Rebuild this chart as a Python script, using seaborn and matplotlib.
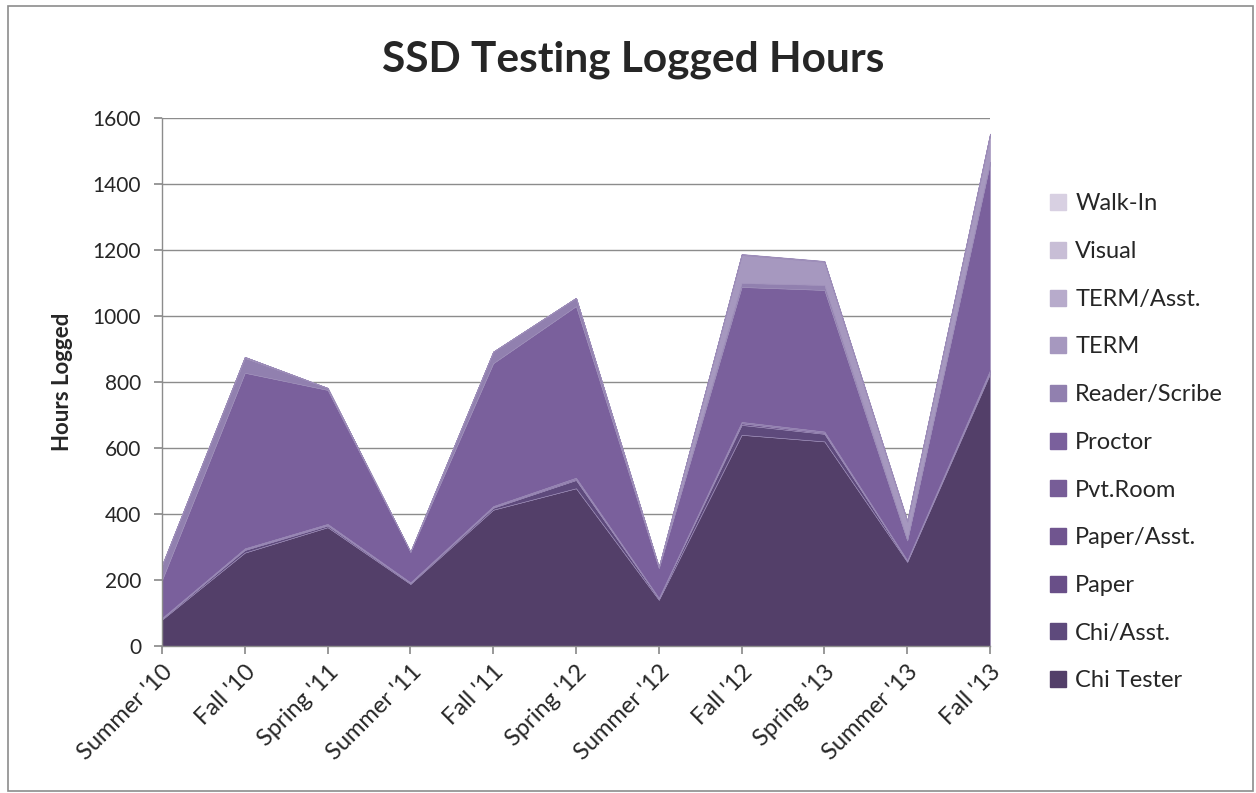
import matplotlib
matplotlib.use("Agg")
import matplotlib.pyplot as plt
import seaborn as sns
import numpy as np
from matplotlib.patches import Rectangle
from matplotlib.lines import Line2D

periods = ["Summer '10", "Fall '10", "Spring '11", "Summer '11", "Fall '11", "Spring '12",
           "Summer '12", "Fall '12", "Spring '13", "Summer '13", "Fall '13"]

series_names = ["Chi Tester", "Chi/Asst.", "Paper", "Paper/Asst.", "Pvt.Room", "Proctor",
                "Reader/Scribe", "TERM", "TERM/Asst.", "Visual", "Walk-In"]

chi_tester    = [80, 283, 360, 188, 413, 478, 140, 640, 620, 255, 825]
chi_asst      = [3, 8, 5, 3, 6, 25, 4, 30, 23, 3, 5]
paper         = [1, 2, 2, 1, 2, 3, 1, 5, 3, 1, 2]
paper_asst    = [0, 1, 1, 0, 1, 1, 0, 1, 1, 0, 1]
pvt_room      = [1, 2, 2, 1, 2, 3, 1, 3, 3, 1, 3]
proctor       = [115, 532, 406, 93, 433, 520, 90, 409, 429, 60, 627]
reader_scribe = [45, 45, 6, 0, 35, 25, 4, 12, 15, 2, 5]
term          = [0, 3, 0, 0, 0, 0, 0, 85, 70, 55, 80]
term_asst     = [0, 0, 0, 0, 0, 0, 0, 1, 1, 2, 3]
visual        = [0, 0, 0, 0, 0, 0, 0, 1, 1, 1, 1]
walk_in       = [0, 0, 0, 0, 0, 0, 0, 1, 1, 1, 1]

colors = ["#533f69", "#5e4a7c", "#694f88", "#70558f", "#775d97", "#7a609c",
          "#9180af", "#a698bf", "#b7abcb", "#c8bed6", "#d8d0e2"]

sns.set_theme(style="white")
plt.rcParams["font.family"] = ["Lato", "DejaVu Sans"]

fig = plt.figure(figsize=(12.56, 7.93), dpi=100)
ax = fig.add_axes([162/1256, 1 - 646/793, (990-162)/1256, (646-118)/793])

x = np.arange(len(periods))
data = [chi_tester, chi_asst, paper, paper_asst, pvt_room, proctor,
        reader_scribe, term, term_asst, visual, walk_in]
ax.stackplot(x, *data, colors=colors, labels=series_names, linewidth=0.4,
             edgecolor="#9c8cb8", zorder=2)

ax.set_xlim(0, len(periods) - 1)
ax.set_ylim(0, 1600)
ax.set_yticks(np.arange(0, 1601, 200))
ax.set_xticks(x)
ax.set_xticklabels(periods, rotation=45, ha="right", rotation_mode="anchor", fontsize=17)
ax.tick_params(axis="y", labelsize=15, length=6, color="#8c8c8c", direction="out", left=True, pad=9)
ax.tick_params(axis="x", length=6, color="#8c8c8c", direction="out", bottom=True, pad=5)
ax.yaxis.grid(True, color="#8c8c8c", linewidth=1.0, zorder=0)
ax.set_axisbelow(True)
for s in ["top", "right"]:
    ax.spines[s].set_visible(False)
for s in ["left", "bottom"]:
    ax.spines[s].set_color("#8c8c8c")
    ax.spines[s].set_linewidth(1.0)

ax.set_ylabel("Hours Logged", fontsize=16, fontweight="bold", labelpad=14)
fig.text(633/1256, 1 - 60/793, "SSD Testing Logged Hours", ha="center", va="center",
         fontsize=30.5, fontweight="bold")

handles = [Line2D([0], [0], marker="s", linestyle="", markersize=11,
                  markerfacecolor=c, markeredgecolor=c) for c in colors]
fig.legend(handles[::-1], series_names[::-1], loc="upper left",
           bbox_to_anchor=(1037/1256, 1 - 184/793), frameon=False,
           fontsize=17, labelspacing=1.13, handletextpad=0.22, handlelength=1.0,
           borderaxespad=0)

fig.add_artist(Rectangle((8/1256, 0.002), 1 - 8/1256 - 0.002, 1 - 6/793 - 0.002,
                         transform=fig.transFigure, fill=False, edgecolor="#8c8c8c", linewidth=1.2))

fig.savefig("out.png", dpi=100)
